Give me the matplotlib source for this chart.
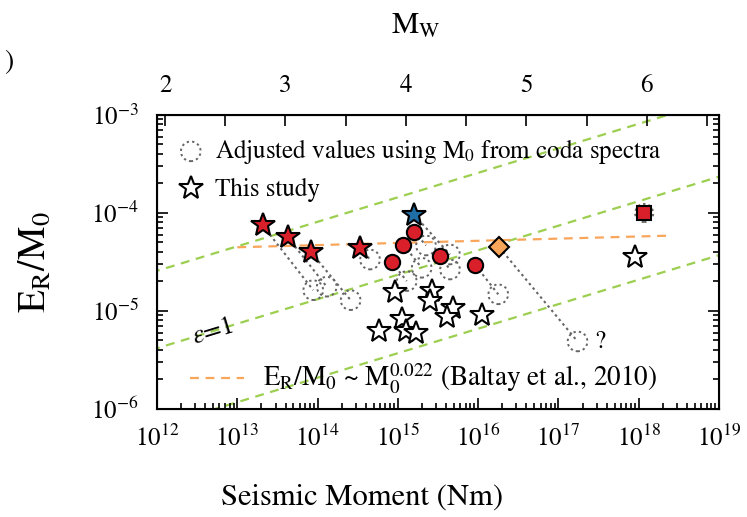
import numpy as np
import matplotlib.pyplot as plt
from matplotlib.ticker import LogLocator, NullFormatter, FixedLocator, NullLocator
from matplotlib.lines import Line2D

plt.rcParams['font.family'] = 'STIXGeneral'
plt.rcParams['mathtext.fontset'] = 'stix'

# previous studies (filled symbols) and their values adjusted with coda M0
red_star_m0 = [2.07e13, 4.25e13, 8.28e13, 3.37e14]
red_star_er = [7.48e-5, 5.65e-5, 3.98e-5, 4.41e-5]
red_star_adj_m0 = [8.83e13, 1.30e14, 2.58e14, 4.50e14]
red_star_adj_er = [1.63e-5, 1.77e-5, 1.29e-5, 3.35e-5]

blue_star_m0 = [1.60e15]
blue_star_er = [9.55e-5]
blue_star_adj_m0 = [4.46e15]
blue_star_adj_er = [3.77e-5]

red_circle_m0 = [8.4e14, 1.17e15, 1.60e15, 3.34e15, 9.2e15]
red_circle_er = [3.15e-5, 4.76e-5, 6.46e-5, 3.62e-5, 2.94e-5]
red_circle_adj_m0 = [1.29e15, 1.98e15, 2.24e15, 4.46e15, 1.78e16]
red_circle_adj_er = [2.02e-5, 2.76e-5, 4.66e-5, 2.65e-5, 1.48e-5]

diamond_m0 = [1.83e16]
diamond_er = [4.47e-5]
diamond_adj_m0 = [1.73e17]
diamond_adj_er = [4.89e-6]

square_m0 = [1.17e18]
square_er = [1.0e-4]

# this study
study_m0 = [9.2e14, 1.11e15, 5.86e14, 1.26e15, 1.68e15, 2.64e15, 2.51e15,
            4.81e15, 4.12e15, 1.11e16, 8.97e17]
study_er = [1.55e-5, 8.38e-6, 6.22e-6, 6.27e-6, 6.03e-6, 1.60e-5, 1.26e-5,
            1.08e-5, 8.77e-6, 9.04e-6, 3.54e-5]

# green reference lines: E_R/M0 = k * (M0/1e12)^0.25
eps_k = [2.57e-5, 4.17e-6, 6.6e-7]
eps_slope = 0.25

# Baltay et al. 2010
baltay_m0 = [1.0e13, 2.2e18]
baltay_k = 4.47e-5
baltay_exp = 0.022

mw_ticks = [2, 2.5, 3, 3.5, 4, 4.5, 5, 5.5, 6, 6.5]


def mw_to_m0(mw):
    return 10 ** (1.5 * np.asarray(mw) + 9.1)


red = '#d9202a'
blue = '#1f6fa6'
orange = '#f9a55a'
green = '#9ccf4f'
gray = '#666666'
dot_ls = (0, (1.2, 1.6))

fig = plt.figure(figsize=(7.47, 5.17), dpi=100)
ax = fig.add_axes([0.2102, 0.2089, 0.7523, 0.5687])

mm = np.logspace(11, 20, 50)
for k in eps_k:
    ax.plot(mm, k * (mm / 1e12) ** eps_slope, '--', color=green, lw=1.6,
            dashes=(4, 3), zorder=1)

bm = np.logspace(np.log10(baltay_m0[0]), np.log10(baltay_m0[1]), 20)
ax.plot(bm, baltay_k * (bm / 1e13) ** baltay_exp, '--', color=orange, lw=1.6,
        dashes=(4, 3), zorder=1)

# dotted connectors and adjusted values
pairs = [(red_star_m0, red_star_er, red_star_adj_m0, red_star_adj_er),
         (blue_star_m0, blue_star_er, blue_star_adj_m0, blue_star_adj_er),
         (red_circle_m0, red_circle_er, red_circle_adj_m0, red_circle_adj_er),
         (diamond_m0, diamond_er, diamond_adj_m0, diamond_adj_er)]
adj_kw = dict(facecolors='none', edgecolors=gray, linewidths=1.4,
              linestyle=dot_ls, zorder=2)
for m0, er, am, ae in pairs:
    for i in range(len(m0)):
        ax.plot([m0[i], am[i]], [er[i], ae[i]], ls=dot_ls, color=gray, lw=1.5,
                zorder=2)
    ax.scatter(am, ae, s=200, **adj_kw)
ax.scatter(square_m0, square_er, s=170, **adj_kw)

ax.plot(red_star_m0, red_star_er, '*', ms=18, mfc=red, mec='k', mew=1.5, zorder=4)
ax.plot(blue_star_m0, blue_star_er, '*', ms=18, mfc=blue, mec='k', mew=1.5, zorder=4)
ax.plot(red_circle_m0, red_circle_er, 'o', ms=11, mfc=red, mec='k', mew=1.5,
        ls='none', zorder=4)
ax.plot(diamond_m0, diamond_er, 'D', ms=10, mfc=orange, mec='k', mew=1.5, zorder=4)
ax.plot(square_m0, square_er, 's', ms=9.5, mfc=red, mec='k', mew=1.5, zorder=4)
ax.plot(study_m0, study_er, '*', ms=18, mfc='white', mec='k', mew=1.5,
        ls='none', zorder=4)

ax.set_xscale('log')
ax.set_yscale('log')
ax.set_xlim(1e12, 1e19)
ax.set_ylim(1e-6, 1e-3)

ax.xaxis.set_major_locator(LogLocator(base=10, numticks=20))
ax.xaxis.set_minor_locator(LogLocator(base=10, subs=np.arange(2, 10), numticks=20))
ax.xaxis.set_minor_formatter(NullFormatter())
ax.yaxis.set_minor_locator(LogLocator(base=10, subs=np.arange(2, 10), numticks=20))
ax.yaxis.set_minor_formatter(NullFormatter())

ax.tick_params(which='both', direction='in', top=False, right=True, width=1.2)
ax.tick_params(which='major', length=8, labelsize=18)
ax.tick_params(which='minor', length=4)
ax.tick_params(axis='x', which='major', pad=12)
ax.tick_params(axis='y', which='major', pad=13)
for s in ax.spines.values():
    s.set_linewidth(1.5)

ax2 = ax.twiny()
ax2.set_xscale('log')
ax2.set_xlim(ax.get_xlim())
ax2.xaxis.set_major_locator(FixedLocator(mw_to_m0(mw_ticks)))
ax2.xaxis.set_minor_locator(NullLocator())
ax2.set_xticklabels([str(int(m)) if m == int(m) else '' for m in mw_ticks])
ax2.tick_params(direction='in', length=8, width=1.2, labelsize=18, pad=12)
ax2.set_xlabel(r'M$_{\mathrm{W}}$', fontsize=22)
ax2.xaxis.set_label_coords(0.46, 1.275)

ax.set_xlabel('Seismic Moment (Nm)', fontsize=22)
ax.xaxis.set_label_coords(0.365, -0.255)
ax.set_ylabel(r'E$_{\mathrm{R}}$/M$_0$', fontsize=27)
ax.yaxis.set_label_coords(-0.185, 0.5)

# legends
h_adj = ax.scatter([], [], s=200, **adj_kw)
h_star = Line2D([], [], marker='*', ms=18, mfc='white', mec='k', mew=1.5, ls='none')
leg1 = ax.legend([h_adj, h_star],
                 [r'Adjusted values using M$_0$ from coda spectra', 'This study'],
                 loc='upper left', bbox_to_anchor=(0.0, 0.985), frameon=False,
                 fontsize=18, handletextpad=0.3, labelspacing=0.5,
                 borderaxespad=0.3, handlelength=1.3, scatterpoints=1)
ax.add_artist(leg1)
h_bal = Line2D([], [], ls='--', color=orange, lw=1.6, dashes=(4, 3))
ax.legend([h_bal], [r'E$_{\mathrm{R}}$/M$_0$ ~ M$_0^{0.022}$ (Baltay et al., 2010)'],
          loc='lower left', bbox_to_anchor=(0.015, -0.04), frameon=False,
          fontsize=19.5, handlelength=2.0, handletextpad=0.7)

ax.text(4.9e12, 6.15e-6, r'$\varepsilon$=1', fontsize=19, rotation=17,
        ha='center', va='center')
ax.text(3.3e17, 4.8e-6, '?', fontsize=18, ha='center', va='center')
fig.text(0.006, 0.88, ')', fontsize=20, ha='left', va='center')

fig.savefig('out.png', dpi=100)
